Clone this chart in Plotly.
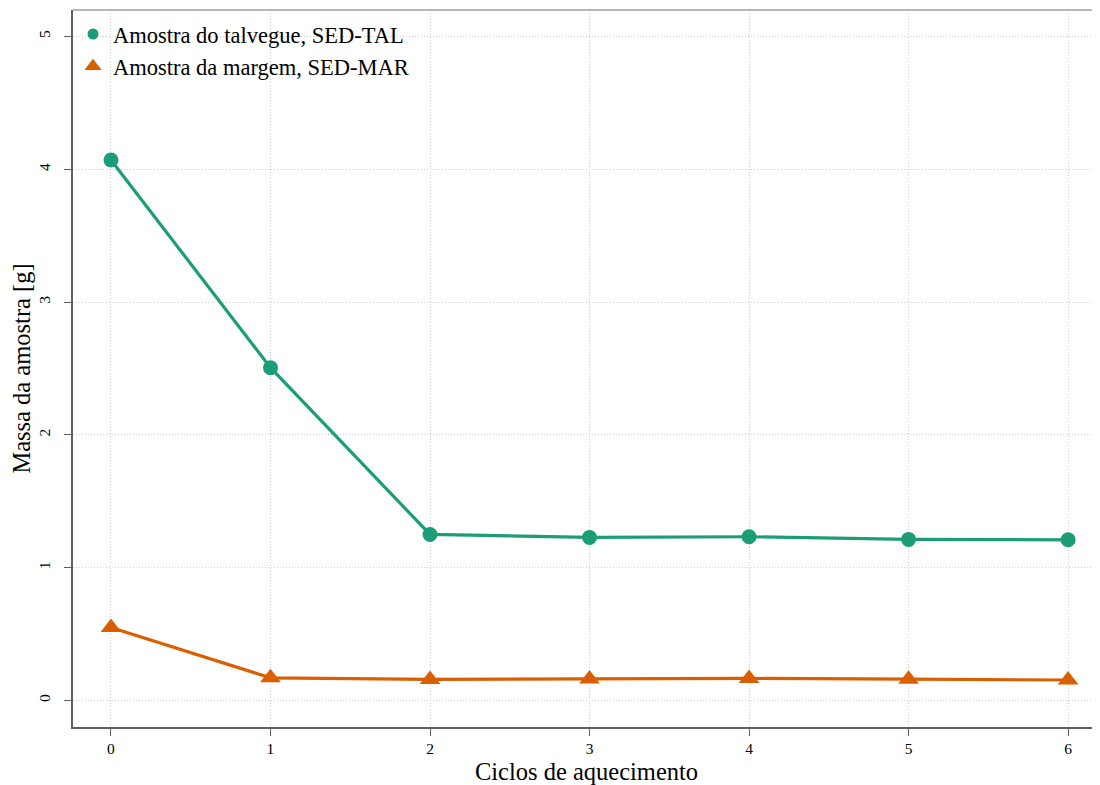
import plotly.graph_objects as go

ciclos = [0, 1, 2, 3, 4, 5, 6]
sed_tal = [4.07, 2.506, 1.25, 1.228, 1.233, 1.213, 1.21]
sed_mar = [0.55, 0.17, 0.158, 0.162, 0.166, 0.16, 0.154]
x_ticks = [0, 1, 2, 3, 4, 5, 6]
y_ticks = [0, 1, 2, 3, 4, 5]
nome_tal = "Amostra do talvegue, SED-TAL"
nome_mar = "Amostra da margem, SED-MAR"

verde = "#1b9e77"
laranja = "#d95f02"
fonte = "Liberation Serif"

fig = go.Figure()
fig.add_trace(go.Scatter(x=ciclos, y=sed_tal, mode="lines+markers", showlegend=False,
                         line=dict(color=verde, width=3.2),
                         marker=dict(symbol="circle", size=15, color=verde)))
fig.add_trace(go.Scatter(x=ciclos, y=sed_mar, mode="lines+markers", showlegend=False,
                         line=dict(color=laranja, width=3.2),
                         marker=dict(symbol="triangle-up", size=18, color=laranja)))
# legend-only entries (symbols only, as in the reference)
fig.add_trace(go.Scatter(x=[None], y=[None], mode="markers", name=nome_tal,
                         marker=dict(symbol="circle", size=11, color=verde)))
fig.add_trace(go.Scatter(x=[None], y=[None], mode="markers", name=nome_mar,
                         marker=dict(symbol="triangle-up", size=15, color=laranja)))

fig.update_layout(
    width=1092, height=777,
    margin=dict(l=65, r=0, t=2, b=58),
    plot_bgcolor="white", paper_bgcolor="white",
    font=dict(family=fonte, color="black"),
    legend=dict(x=0.0, y=0.996, xanchor="left", yanchor="top",
                font=dict(size=22.5, family=fonte), bgcolor="rgba(0,0,0,0)",
                itemwidth=30, tracegroupgap=0),
    shapes=[dict(type="line", xref="paper", yref="paper", x0=0, x1=1, y0=1, y1=1,
                 line=dict(color="#a0a0a0", width=1.5))],
)
fig.update_xaxes(
    range=[-0.238, 6.2], tickvals=x_ticks, ticktext=[str(v) for v in x_ticks],
    showline=True, linecolor="#606060", linewidth=1.5,
    ticks="outside", ticklen=7, tickcolor="#606060", tickwidth=1,
    showgrid=True, gridcolor="#cccccc", griddash="1px,2px", gridwidth=1,
    zeroline=False, tickfont=dict(size=15.5, family=fonte),
    title=dict(text="Ciclos de aquecimento", font=dict(size=24.5, family=fonte), standoff=10),
)
fig.update_yaxes(
    range=[-0.2, 5.2], tickvals=y_ticks, ticktext=[str(v) for v in y_ticks],
    showline=True, linecolor="#606060", linewidth=1.5,
    ticks="outside", ticklen=7, tickcolor="#606060", tickwidth=1,
    showgrid=True, gridcolor="#cccccc", griddash="1px,2px", gridwidth=1,
    zeroline=False, tickangle=-90, tickfont=dict(size=15.5, family=fonte),
    ticklabelstandoff=8,
    title=dict(text="Massa da amostra [g]", font=dict(size=24.5, family=fonte), standoff=8),
)

fig.write_html("out.html")
